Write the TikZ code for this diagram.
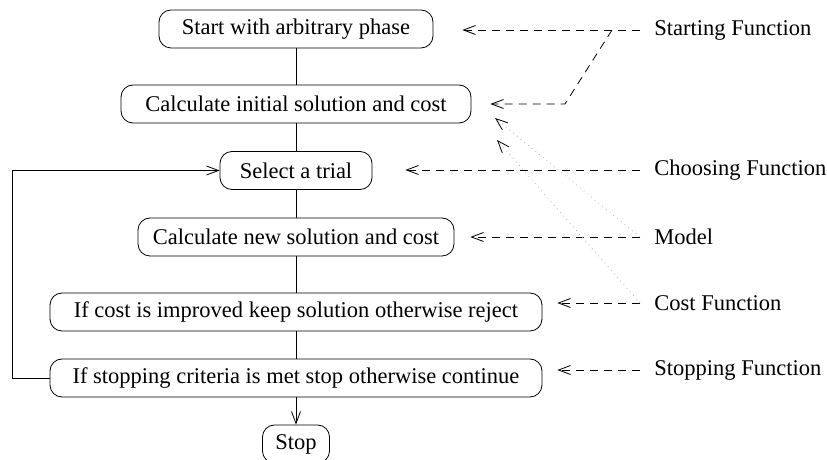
\documentclass[tikz,border=0pt]{standalone}
\usepackage{fontspec}
\setmainfont{Liberation Serif}
\usetikzlibrary{arrows.meta,calc}
\tikzset{
	stepbox/.style={draw,rounded corners=6pt,minimum height=19pt,inner sep=0pt,font=\fontsize{11.25}{13}\selectfont},
	fnlabel/.style={anchor=west,inner ysep=0pt,inner xsep=7pt,font=\fontsize{11.25}{13}\selectfont},
	fnarrow/.style={dash pattern=on 4pt off 3pt,-{Straight Barb[length=6pt,width=4.5pt]}},
	mdlarrow/.style={draw=black!30,dotted,-{Straight Barb[length=6pt,width=4.5pt,color=black]}},
}

\begin{document}
\begin{tikzpicture}[x=0.5pt,y=-0.5pt]
	\useasboundingbox (0,0) rectangle (827,460);
\node[stepbox,minimum width=137pt] (start) at (296,29) {Start with arbitrary phase};
\node[stepbox,minimum width=175pt] (calcinit) at (296,104) {Calculate initial solution and cost};
\node[stepbox,minimum width=76pt] (trial) at (296,170.5) {Select a trial};
\node[stepbox,minimum width=158pt] (calcnew) at (296,237) {Calculate new solution and cost};
\node[stepbox,minimum width=246pt] (improve) at (296,312) {If cost is improved keep solution otherwise reject};
\node[stepbox,minimum width=246pt] (stopcrit) at (296,378) {If stopping criteria is met stop otherwise continue};
\node[stepbox,minimum width=33.5pt] (stop) at (296,444) {Stop};
\node[fnlabel] (startfn) at (640,30) {Starting Function};
\node[fnlabel] (choosefn) at (640,170) {Choosing Function};
\node[fnlabel] (modelfn) at (640,237) {Model};
\node[fnlabel] (costfn) at (640,303) {Cost Function};
\node[fnlabel] (stopfn) at (640,370) {Stopping Function};
\draw (start)--(calcinit);
\draw (calcinit)--(trial);
\draw (trial)--(calcnew);
\draw (calcnew)--(improve);
\draw (improve)--(stopcrit);
\draw[-{Straight Barb[length=6pt,width=4.5pt]}] (stopcrit)--(stop);
\draw[-{Straight Barb[length=6pt,width=4.5pt]}] (stopcrit.west)--++(-37,0) |- (trial.west);
\coordinate (split) at (612,30);
\coordinate (modeltip) at (495,118);
\coordinate (costtip) at (497,140);
\draw[fnarrow,shorten >=14.5pt] (startfn.west)--(startfn.west -| start.east);
\draw[fnarrow,shorten >=9.5pt] (split)--(565,104)--(calcinit.east);
\draw[fnarrow,shorten >=16.5pt] (choosefn.west)--(choosefn.west -| trial.east);
\draw[fnarrow,shorten >=8pt] (modelfn.west)--(modelfn.west -| calcnew.east);
\draw[fnarrow,shorten >=7.5pt] (costfn.west)--(costfn.west -| improve.east);
\draw[fnarrow,shorten >=7.5pt] (stopfn.west)--(stopfn.west -| stopcrit.east);
\draw[mdlarrow] (modelfn.west)--(modeltip);
\draw[mdlarrow] (costfn.west)--(costtip);
	\end{tikzpicture}
\end{document}
